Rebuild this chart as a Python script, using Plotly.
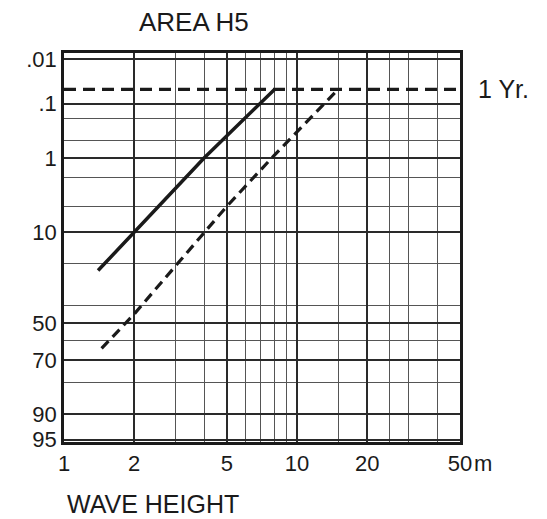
import math
from statistics import NormalDist
import plotly.graph_objects as go

# ---- data ----
height_solid = [1.4, 2, 4, 8]              # wave height, m
exceed_solid = [23, 10, 1, 0.05]           # % exceedance
height_dashed = [1.45, 2, 5, 8, 15]
exceed_dashed = [64, 45, 5, 0.9, 0.05]
one_year_exceed = 0.05                     # % (1 year return level)
one_year_heights = [1, 50]

x_tick_vals = [1, 2, 5, 10, 20, 50]
x_tick_text = ["1", "2", "5", "10", "20", "50"]
x_minor_vals = [3, 4, 6, 7, 8, 9, 15, 25, 30, 40]

y_tick_probs = [0.01, 0.1, 1, 10, 50, 70, 90, 95]
y_tick_text = [".01", ".1", "1", "10", "50", "70", "90", "95"]
y_minor_probs = [0.2, 0.5, 2, 5, 20, 40, 60, 80]

# ---- probability-paper scale (normal quantile of non-exceedance) ----
nd = NormalDist()
def prob_scale(p):
    return nd.inv_cdf(1 - p / 100.0)

FONT = "Liberation Sans, Arial, Helvetica, sans-serif"
INK = "#1a1a1a"

fig = go.Figure()
fig.add_trace(go.Scatter(
    x=one_year_heights, y=[prob_scale(one_year_exceed)] * len(one_year_heights),
    mode="lines", line=dict(color=INK, width=3.2, dash="12px,7px"),
    hoverinfo="skip", showlegend=False, cliponaxis=False))
fig.add_trace(go.Scatter(
    x=height_solid, y=[prob_scale(p) for p in exceed_solid],
    mode="lines", line=dict(color=INK, width=3.5),
    showlegend=False))
fig.add_trace(go.Scatter(
    x=height_dashed, y=[prob_scale(p) for p in exceed_dashed],
    mode="lines", line=dict(color=INK, width=3.2, dash="10px,6px"),
    showlegend=False))

fig.update_layout(
    width=547, height=519,
    margin=dict(l=64, r=87, t=53, b=77),
    paper_bgcolor="white", plot_bgcolor="white",
    font=dict(family=FONT, color=INK),
    showlegend=False,
    xaxis=dict(
        type="log", range=[0, math.log10(50)],
        tickmode="array", tickvals=x_tick_vals, ticktext=x_tick_text,
        tickfont=dict(size=22, family=FONT, color=INK),
        showgrid=True, gridcolor="#2a2a2a", gridwidth=1.5,
        minor=dict(tickmode="array", tickvals=x_minor_vals, showgrid=True,
                   gridcolor="#555555", gridwidth=1.2),
        showline=True, linecolor=INK, linewidth=2.5, mirror=True,
        ticks="", zeroline=False,
    ),
    yaxis=dict(
        range=[-1.676, 3.803],
        tickmode="array", tickvals=[prob_scale(p) for p in y_tick_probs],
        ticktext=y_tick_text,
        tickfont=dict(size=22, family=FONT, color=INK),
        showgrid=True, gridcolor="#2a2a2a", gridwidth=1.5,
        minor=dict(tickmode="array", tickvals=[prob_scale(p) for p in y_minor_probs],
                   showgrid=True, gridcolor="#555555", gridwidth=1.2),
        showline=True, linecolor=INK, linewidth=2.5, mirror=True,
        ticks="", zeroline=False,
    ),
    annotations=[
        dict(text="AREA H5", xref="paper", yref="paper", x=0.184, y=1.0797,
             xanchor="left", yanchor="middle", showarrow=False,
             font=dict(size=26, family=FONT, color=INK)),
        dict(text="WAVE HEIGHT", xref="paper", yref="paper", x=0.0025, y=-0.159,
             xanchor="left", yanchor="middle", showarrow=False,
             font=dict(size=25, family=FONT, color=INK)),
        dict(text="1 Yr.", xref="paper", yref="y", x=1, xshift=16,
             y=prob_scale(one_year_exceed),
             xanchor="left", yanchor="middle", showarrow=False,
             font=dict(size=25, family=FONT, color=INK)),
        dict(text="m", xref="paper", yref="paper", x=1, xshift=12, y=-0.054,
             xanchor="left", yanchor="middle", showarrow=False,
             font=dict(size=22, family=FONT, color=INK)),
    ],
)

# remove the browser's default 8px body margin so the figure fills the window
fig.write_html("out.html",
               config={"displayModeBar": False},
               post_script="document.body.style.margin='0';document.body.style.overflow='hidden';")
